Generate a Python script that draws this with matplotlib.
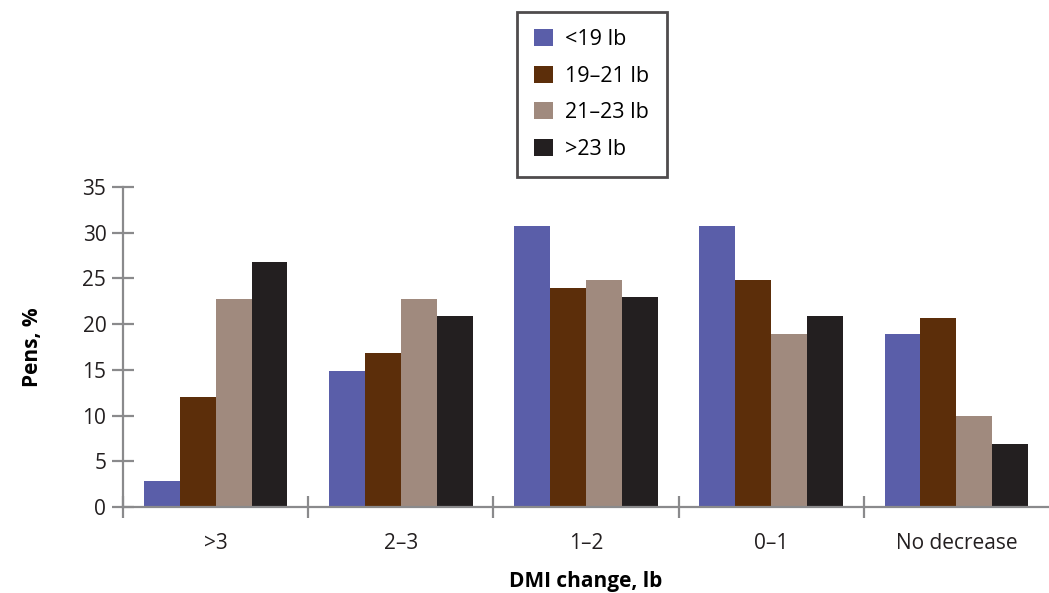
import numpy as np
import matplotlib.pyplot as plt

plt.rcParams['font.family'] = ['Open Sans', 'DejaVu Sans']

categories = ['>3', '2\u20133', '1\u20132', '0\u20131', 'No decrease']
series_names = ['<19 lb', '19\u201321 lb', '21\u201323 lb', '>23 lb']
vals_lt19 = [2.8, 14.9, 30.7, 30.7, 18.9]
vals_19_21 = [12.0, 16.8, 23.9, 24.8, 20.7]
vals_21_23 = [22.8, 22.8, 24.8, 18.9, 9.9]
vals_gt23 = [26.8, 20.9, 23.0, 20.9, 6.9]
colors = ['#5a5ea9', '#5c2e0a', '#a08a7e', '#231f20']

series = [vals_lt19, vals_19_21, vals_21_23, vals_gt23]

fig = plt.figure(figsize=(10.49, 5.93), dpi=100)
ax = fig.add_axes([123 / 1049, 86 / 593, 1 - 123 / 1049, 320 / 593])

x = np.arange(len(categories))
w = 0.194
for i, (vals, name, c) in enumerate(zip(series, series_names, colors)):
    ax.bar(x + (i - 1.5) * w, vals, w, color=c, label=name, linewidth=0)

axis_col = '#8a8a8c'
ax.set_xlim(-0.5, 4.5)
ax.set_ylim(0, 35)
ax.set_yticks(np.arange(0, 36, 5))
ax.set_xticks(x)
ax.set_xticklabels(categories)
ax.set_xticks(np.arange(-0.5, 4, 1), minor=True)
for s in ['top', 'right']:
    ax.spines[s].set_visible(False)
for s in ['left', 'bottom']:
    ax.spines[s].set_color(axis_col)
    ax.spines[s].set_linewidth(1.6)
ax.tick_params(axis='y', direction='inout', length=16, width=1.6, color=axis_col,
               labelsize=15, labelcolor='#231f20', pad=4)
ax.tick_params(axis='x', which='major', length=0, labelsize=15, labelcolor='#231f20', pad=19)
ax.tick_params(axis='x', which='minor', direction='inout', length=16, width=1.6, color=axis_col)
ax.set_ylabel('Pens, %', fontsize=15, fontweight='bold', labelpad=28)
ax.set_xlabel('DMI change, lb', fontsize=15, fontweight='bold', labelpad=12)

leg = fig.legend(loc='upper left', bbox_to_anchor=(517 / 1049, 1 - 12 / 593),
                 fontsize=15.5, handlelength=0.85, handleheight=0.85, labelspacing=0.72,
                 handletextpad=0.6, borderpad=0.8, borderaxespad=0, fancybox=False,
                 frameon=True)
leg.get_frame().set_edgecolor('#231f20')
leg.get_frame().set_linewidth(2)

fig.savefig('out.png', dpi=100)
